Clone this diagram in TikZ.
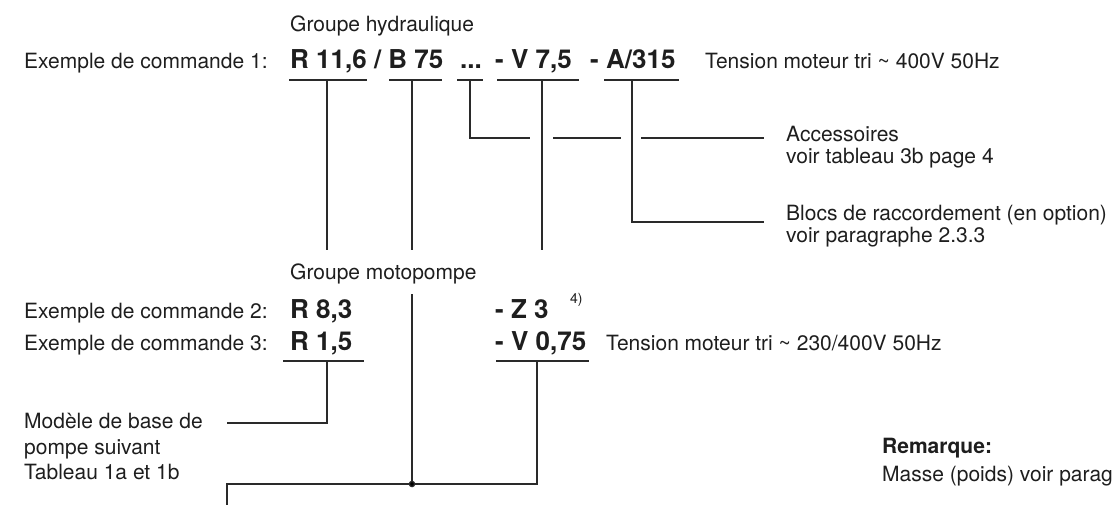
\documentclass[tikz,border=0pt]{standalone}
\usepackage{fontspec}
\setmainfont{TeX Gyre Heros}
\definecolor{ink}{HTML}{1E1E1E}
\definecolor{wire}{HTML}{2A2A2A}
\begin{document}
\begin{tikzpicture}[x=1pt,y=-1pt,
  txt/.style={anchor=base west,inner sep=0pt,text=ink,font=\fontsize{21}{25}\selectfont},
  txtb/.style={txt,font=\fontsize{21}{25}\selectfont\bfseries},
  code/.style={anchor=base west,inner sep=0pt,text=ink,font=\fontsize{26}{30}\selectfont\bfseries},
  note/.style={anchor=base west,inner sep=0pt,text=ink,font=\fontsize{14}{16}\selectfont},
  wire/.style={draw=wire,line width=1.3pt},
  under/.style={draw=wire,line width=1.3pt}]
\useasboundingbox (0,0) rectangle (1114,504);
\clip (0,0) rectangle (1114,504);

% ---------- hydraulic unit, example 1 ----------
\node[txt] (gh) at (290,31) {Groupe hydraulique};
\node[txt] (ex1) at (24,68) {Exemple de commande 1:};
\node[code] (c1a) at (290,68) {R 11,6 / B 75};
\node[code] (c1b) at (460,68) {...};
\node[code] (c1c) at (495,68) {- V 7,5};
\node[code] (c1d) at (590,68) {- A/315};
\node[txt] (t1) at (705,68) {Tension moteur tri \symbol{"7E} 400V 50Hz};

% underlines of the code groups
\draw[under] (289,80) -- (367,80);
\draw[under] (389,80) -- (442,80);
\draw[under] (457,80) -- (483,80);
\draw[under] (497,80) -- (579,80);
\draw[under] (604,80) -- (679,80);

\coordinate (u1) at (327,80);
\coordinate (u2) at (412,80);
\coordinate (u3) at (470,80);
\coordinate (u4) at (542,80);
\coordinate (u5) at (632,80);
\coordinate (e1) at (327,250);
\coordinate (e2) at (412,250);
\coordinate (e4) at (542,250);
\coordinate (k3) at (530,138);
\coordinate (s1a) at (553,138);
\coordinate (s1b) at (621,138);
\coordinate (s2a) at (641,138);
\coordinate (s2b) at (764,138);
\coordinate (k5) at (764,222);

\draw[wire] (u1) -- (e1);
\draw[wire] (u2) -- (e2);
\draw[wire] (u4) -- (e4);
\draw[wire] (u3) |- (k3);
\draw[wire] (s1a) -- (s1b);
\draw[wire] (s2a) -- (s2b);
\draw[wire] (u5) |- (k5);

\node[txt] (acc) at (786,141) {Accessoires};
\node[txt] (acc2) at (786,163) {voir tableau 3b page 4};
\node[txt] (blc) at (786,220) {Blocs de raccordement (en option)};
\node[txt] (blc2) at (786,242) {voir paragraphe 2.3.3};

% ---------- motor pump unit, examples 2 and 3 ----------
\node[txt] (gmp) at (290,279) {Groupe motopompe};
\node[txt] (ex2) at (24,318) {Exemple de commande 2:};
\node[code] (c2a) at (290,318) {R 8,3};
\node[code] (c2b) at (495,318) {- Z 3};
\node[note] (fn) at (570,303) {4)};
\node[txt] (ex3) at (24,350) {Exemple de commande 3:};
\node[code] (c3a) at (290,350) {R 1,5};
\node[code] (c3b) at (495,350) {- V 0,75};
\node[txt] (t3) at (606,350) {Tension moteur tri \symbol{"7E} 230/400V 50Hz};

\draw[under] (283,361) -- (364,361);
\draw[under] (496,361) -- (589,361);

\coordinate (b1) at (327,361);
\coordinate (b1k) at (227,423);
\coordinate (m0) at (412,294);
\coordinate (m1) at (412,484);
\coordinate (b2) at (537,361);
\coordinate (hl) at (227,484);
\coordinate (hr) at (537,484);
\coordinate (dn) at (227,506);

\draw[wire] (b1) |- (b1k);
\draw[wire] (m0) -- (m1);
\draw[wire] (b2) -- (hr) -- (hl) -- (dn);
\fill[wire] (m1) circle (2.6pt);

\node[txt] (mb1) at (24,428) {Modèle de base de};
\node[txt] (mb2) at (24,454) {pompe suivant};
\node[txt] (mb3) at (24,479) {Tableau 1a et 1b};

\node[txtb] (rq) at (882,453) {Remarque:};
\node[txt] (rq2) at (882,481) {Masse (poids) voir parag};
\end{tikzpicture}
\end{document}
